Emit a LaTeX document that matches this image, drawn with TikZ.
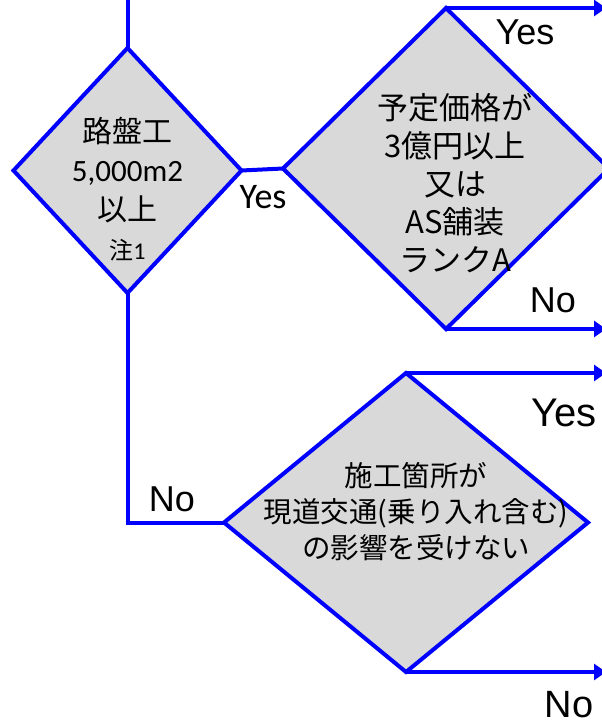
\documentclass[tikz,border=0pt]{standalone}
\usepackage{fontspec}
\setmainfont{Liberation Sans}
\newfontfamily\jpfont{Noto Sans CJK JP}
\newfontfamily\califont{Carlito}
\usetikzlibrary{shapes.geometric,arrows.meta}
\definecolor{boxgray}{HTML}{D9D9D9}
\tikzset{
  flow/.style={draw=blue,line width=4pt},
  arr/.style={flow,-{Triangle[length=12pt,width=16pt]}},
  decision/.style={diamond,draw=blue,line width=4pt,fill=boxgray,inner sep=0pt,outer sep=0pt},
  lbl/.style={inner sep=0pt,font=\fontsize{36}{36}\selectfont},
}

\begin{document}
\begin{tikzpicture}[x=1pt,y=-1pt]
    \useasboundingbox (0,0) rectangle (602,726);
    \clip (0,0) rectangle (602,726);
    % decisions
    \node[decision,minimum width=228pt,minimum height=245pt](d1)at(127.5,170.5){};
    \node[decision,minimum width=326pt,minimum height=321pt](d2)at(446,168.5){};
    \node[decision,minimum width=364pt,minimum height=299pt](d3)at(406,522.5){};
    \node[align=center,font=\jpfont\fontsize{30}{39}\selectfont](t1)at(127.5,189){%
      路盤工\\{\califont\fontsize{31}{39}\selectfont 5,000m2}\\以上\\{\fontsize{24}{39}\selectfont 注{\califont 1}}};
    \node[align=center,font=\jpfont\fontsize{31}{38}\selectfont](t2)at(455,183){%
      予定価格が\\3億円以上\\又は\\AS舗装\\ランクA};
    \node[align=center,font=\jpfont\fontsize{28.5}{36}\selectfont](t3)at(416,512){%
      施工箇所が\\現道交通(乗り入れ含む)\\の影響を受けない};
    % ends
    \coordinate(in)at(127.5,0);
    \coordinate(out)at(606,0);
    % connectors
    \draw[flow](in)--(d1.north);
    \draw[flow](d1.east)--(d2.west);
    \draw[flow](d1.south)|-(d3.west);
    \draw[arr](d2.north)--(d2.north-|out);
    \draw[arr](d2.south)--(d2.south-|out);
    \draw[arr](d3.north)--(d3.north-|out);
    \draw[arr](d3.south)--(d3.south-|out);
    % labels
    \node[lbl,font=\califont\fontsize{36}{36}\selectfont](y1)at(263,197){Yes};
    \node[lbl](y2)at(525,32.5){Yes};
    \node[lbl](n2)at(553,300.5){No};
    \node[lbl](n1)at(172,499){No};
    \node[lbl,font=\fontsize{40}{40}\selectfont](y3)at(564,413){Yes};
    \node[lbl,font=\fontsize{38}{38}\selectfont](n3)at(569,705){No};
\end{tikzpicture}
\end{document}
